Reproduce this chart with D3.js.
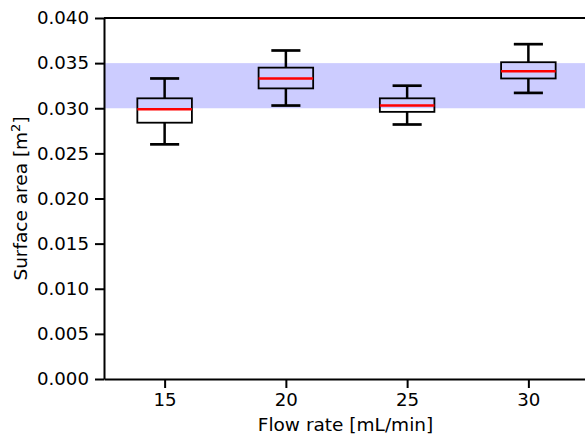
<!DOCTYPE html>
<html lang="en">
  <head>
    <title>Surface area vs flow rate</title>
    <script src="https://cdn.jsdelivr.net/npm/d3@7"></script>
    <style>
      body { margin: 0; background-color: white; }
    </style>
  </head>
  <body>
    <div id="container"></div>
  <script>
    // values
    const flowRates = [15, 20, 25, 30];
    const whiskerLow = [0.0260, 0.0303, 0.0282, 0.0317];
    const q1 = [0.0284, 0.0322, 0.0296, 0.0333];
    const medians = [0.0299, 0.0333, 0.0303, 0.0341];
    const q3 = [0.0311, 0.0345, 0.0311, 0.0351];
    const whiskerHigh = [0.0333, 0.0364, 0.0325, 0.0371];
    const bandRange = [0.030, 0.035];
    const yTicks = [0, 0.005, 0.010, 0.015, 0.020, 0.025, 0.030, 0.035, 0.040];

    const margin = {top: 18, right: -4, bottom: 56, left: 104};
    const W = 585, H = 435;
    const width = W - margin.left - margin.right;
    const height = H - margin.top - margin.bottom;
    const font = "DejaVu Sans, sans-serif";

    const svg = d3.select("#container").append("svg")
      .attr("width", W).attr("height", H)
      .append("g")
      .attr("transform", `translate(${margin.left}, ${margin.top})`);

    const x = d3.scaleLinear().domain([12.5, 32.5]).range([0, width]);
    const y = d3.scaleLinear().domain([0, 0.040]).range([height, 0]);

    // target band
    svg.append("rect")
      .attr("x", 0).attr("width", width)
      .attr("y", y(bandRange[1]))
      .attr("height", y(bandRange[0]) - y(bandRange[1]))
      .attr("fill", "#ccccff");

    const boxHalf = 1.125, capHalf = 0.6;
    const data = flowRates.map((f, i) => ({f, lo: whiskerLow[i], q1: q1[i], med: medians[i], q3: q3[i], hi: whiskerHigh[i]}));

    const boxes = svg.append("g").selectAll("g").data(data).enter().append("g");

    boxes.append("line")
      .attr("x1", d => x(d.f)).attr("x2", d => x(d.f))
      .attr("y1", d => y(d.q3)).attr("y2", d => y(d.hi))
      .attr("stroke", "black").attr("stroke-width", 2.5);
    boxes.append("line")
      .attr("x1", d => x(d.f)).attr("x2", d => x(d.f))
      .attr("y1", d => y(d.q1)).attr("y2", d => y(d.lo))
      .attr("stroke", "black").attr("stroke-width", 2.5);
    boxes.append("line")
      .attr("x1", d => x(d.f - capHalf)).attr("x2", d => x(d.f + capHalf))
      .attr("y1", d => y(d.hi)).attr("y2", d => y(d.hi))
      .attr("stroke", "black").attr("stroke-width", 2.7);
    boxes.append("line")
      .attr("x1", d => x(d.f - capHalf)).attr("x2", d => x(d.f + capHalf))
      .attr("y1", d => y(d.lo)).attr("y2", d => y(d.lo))
      .attr("stroke", "black").attr("stroke-width", 2.7);
    boxes.append("rect")
      .attr("x", d => x(d.f - boxHalf))
      .attr("width", d => x(d.f + boxHalf) - x(d.f - boxHalf))
      .attr("y", d => y(d.q3))
      .attr("height", d => y(d.q1) - y(d.q3))
      .attr("fill", "none").attr("stroke", "black").attr("stroke-width", 1.8);
    boxes.append("line")
      .attr("x1", d => x(d.f - boxHalf)).attr("x2", d => x(d.f + boxHalf))
      .attr("y1", d => y(d.med)).attr("y2", d => y(d.med))
      .attr("stroke", "red").attr("stroke-width", 2.5);

    // axes
    const xAxis = svg.append("g")
      .attr("transform", `translate(0, ${height})`)
      .call(d3.axisBottom(x).tickValues(flowRates).tickFormat(d3.format("d")).tickSizeInner(9).tickSizeOuter(0).tickPadding(5));
    const yAxis = svg.append("g")
      .call(d3.axisLeft(y).tickValues(yTicks).tickFormat(d3.format(".3f")).tickSizeInner(9).tickSizeOuter(0).tickPadding(6));

    [xAxis, yAxis].forEach(a => {
      a.select(".domain").attr("stroke-width", 2);
      a.selectAll(".tick line").attr("stroke-width", 2);
      a.selectAll("text").style("font-family", font).style("font-size", "18.2px").attr("fill", "black");
    });

    // top spine
    svg.append("line")
      .attr("x1", 0).attr("x2", width).attr("y1", 0).attr("y2", 0)
      .attr("stroke", "black").attr("stroke-width", 2);

    svg.append("text")
      .attr("x", width / 2 - 1).attr("y", height + 52)
      .attr("text-anchor", "middle")
      .style("font-family", font).style("font-size", "18.5px")
      .text("Flow rate [mL/min]");

    const yl = svg.append("text")
      .attr("transform", `translate(${-77}, ${height / 2}) rotate(-90)`)
      .attr("text-anchor", "middle")
      .style("font-family", font).style("font-size", "18.5px");
    yl.append("tspan").text("Surface area [m");
    yl.append("tspan").attr("dy", -7).style("font-size", "13px").text("2");
    yl.append("tspan").attr("dy", 7).text("]");
  </script>
  </body>
</html>
